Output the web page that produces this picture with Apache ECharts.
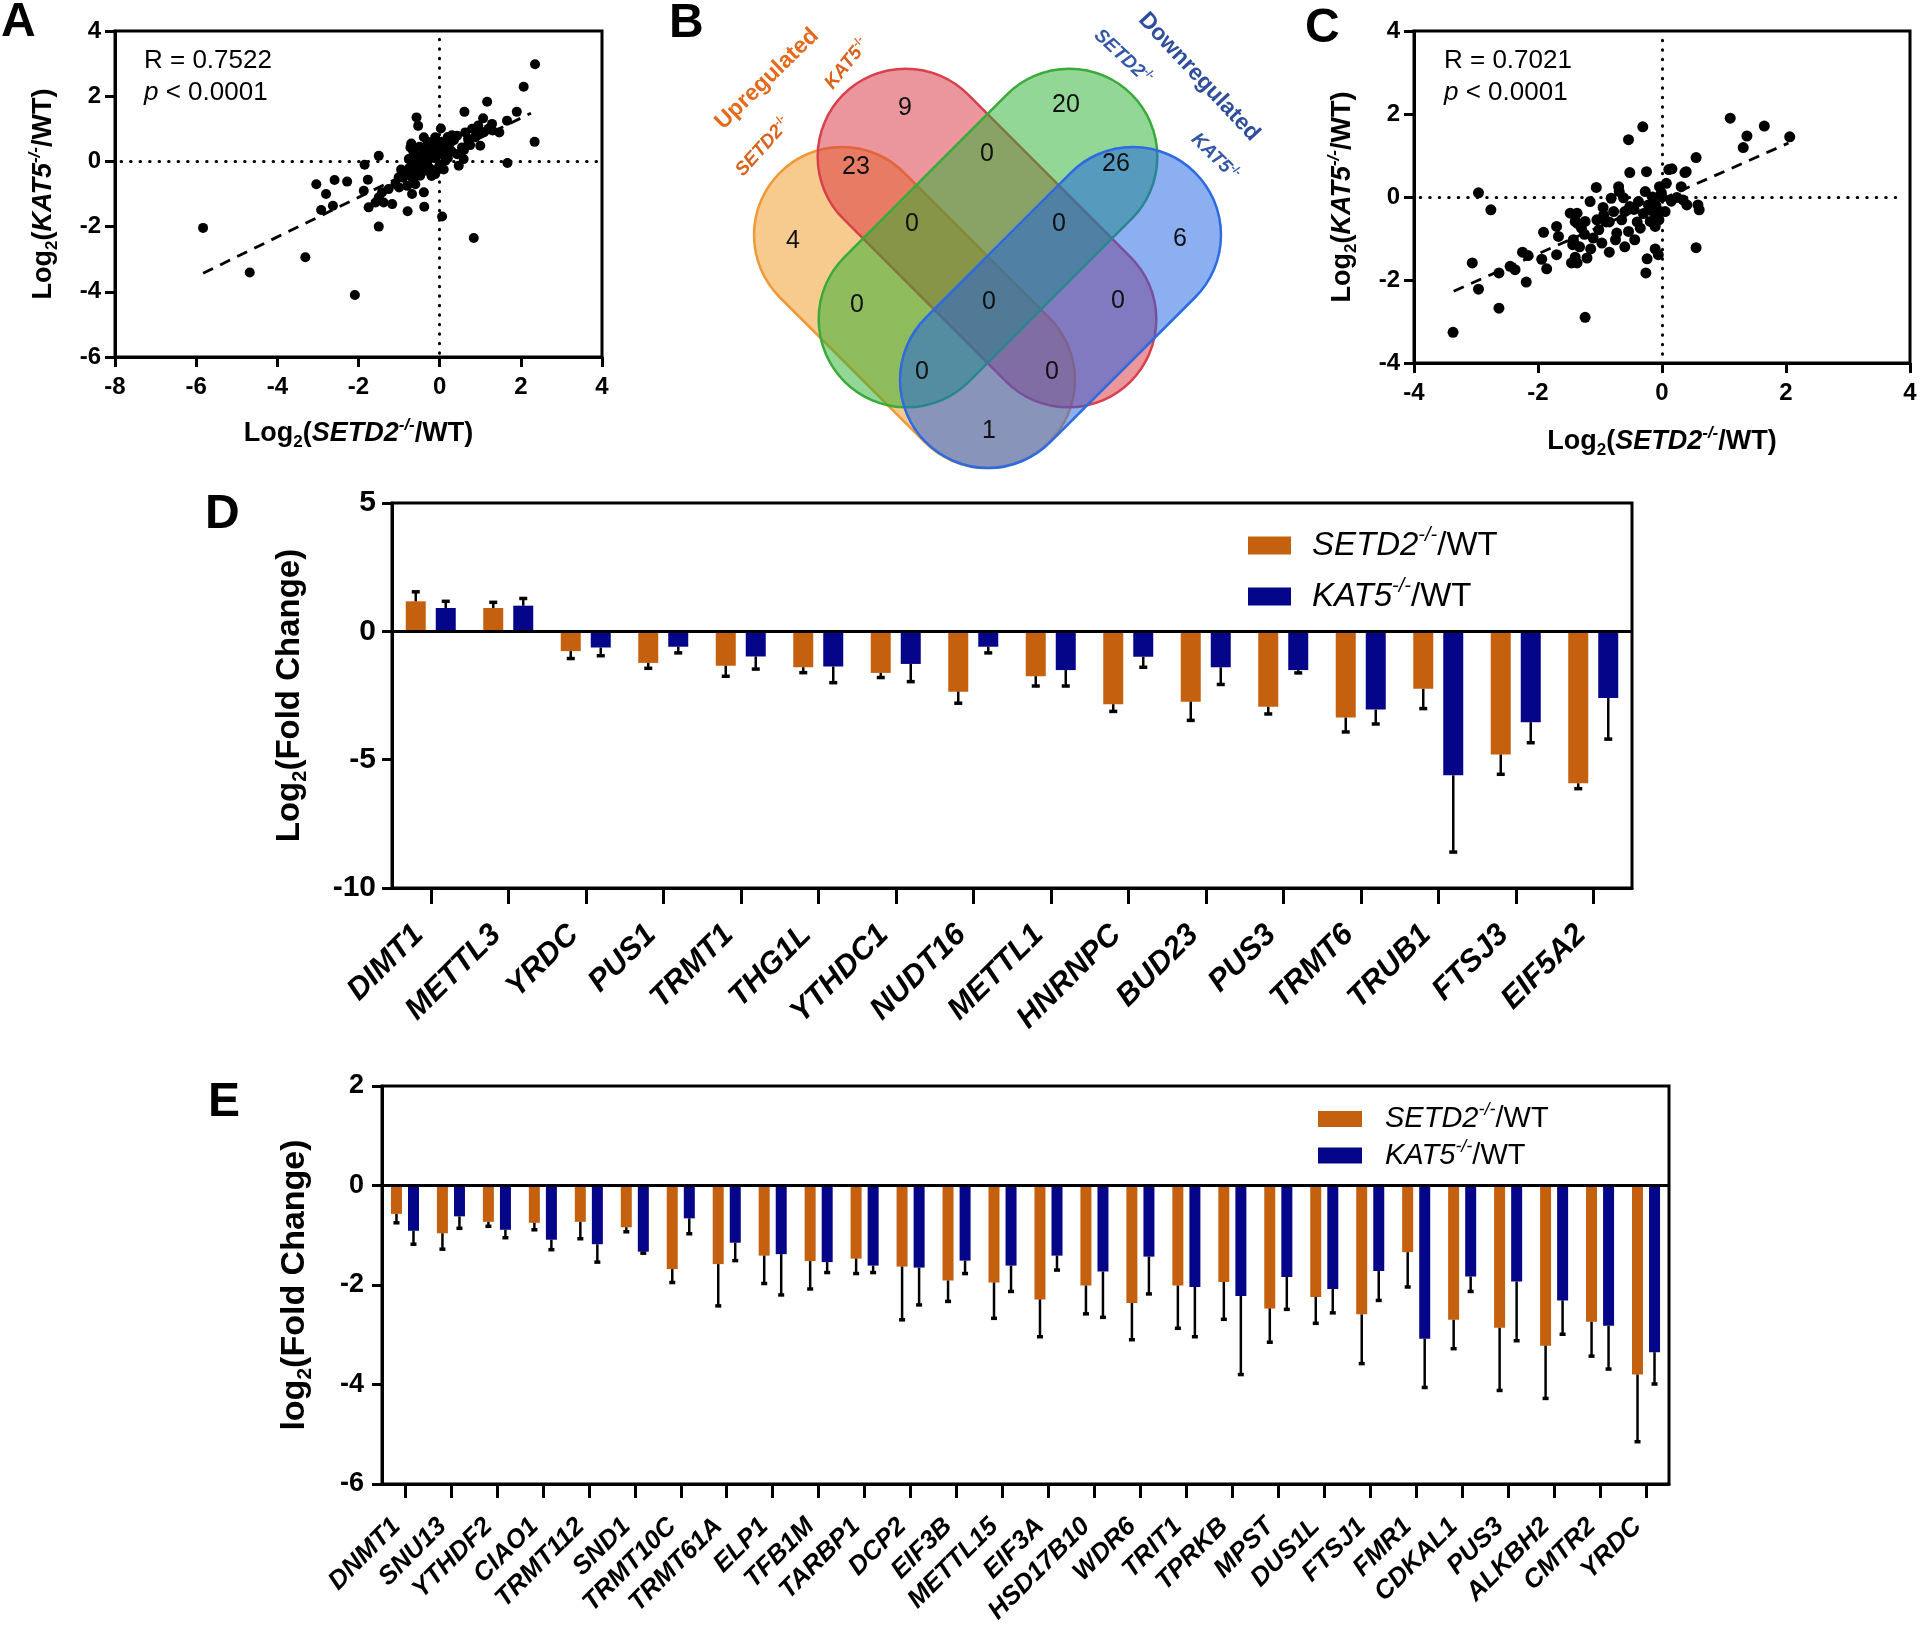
<!DOCTYPE html>
<html><head><meta charset="utf-8">
<script src="https://cdn.jsdelivr.net/npm/echarts@6/dist/echarts.min.js"></script>
<style>html,body{margin:0;padding:0;background:#fff}#c{width:1920px;height:1629px}</style>
</head><body><div id="c"></div>
<script>
// ---------------- DATA ----------------
// Panel A: log2(SETD2-/-/WT) vs log2(KAT5-/-/WT)
const A_POINTS = [
[2.35,2.98],[2.07,2.29],[1.17,1.83],[0.61,1.52],[1.90,1.52],[2.34,0.60],[1.67,-0.05],
[-0.57,1.35],[-0.53,1.09],[0.03,1.01],[1.07,1.32],[1.29,1.15],[1.47,0.89],[1.66,1.25],[0.96,0.94],
[0.88,0.74],[1.0,0.48],[0.63,0.89],[0.43,0.79],[0.71,0.63],[0.55,0.43],[0.43,0.22],[0.59,0.07],
[0.47,-0.13],[0.26,0.33],[0.14,0.02],[-0.11,0.74],[-0.15,0.58],[-0.39,0.74],[-0.27,0.43],[-0.43,0.22],
[-0.31,-0.03],[-0.56,0.12],[-0.76,0.07],[-0.72,0.43],[-0.07,0.22],[-0.02,-0.18],[-0.11,-0.39],
[-0.31,-0.29],[-0.48,-0.44],[-0.68,-0.49],[-0.80,-0.75],[-0.68,-1.0],[-0.39,-0.95],[-0.38,-1.39],
[-0.79,-1.53],[0.06,-1.69],[-1.01,-0.49],[-1.09,-0.70],[-1.26,-0.85],[-1.42,-0.95],[-1.50,-1.10],
[-1.58,-1.26],[-1.38,-1.26],[-1.17,-1.31],[-1.75,-1.41],[-1.50,-2.0],[-1.50,0.17],[-1.85,-0.10],
[-1.77,-0.56],[-1.87,-0.90],[-2.28,-0.62],[-2.59,-0.57],[-3.04,-0.70],[-2.80,-1.0],[-2.63,-1.36],
[-2.92,-1.49],[0.84,-2.35],[-3.31,-2.94],[-5.83,-2.04],[-4.68,-3.41],[-2.09,-4.10],
[-0.9,-0.5],[-0.85,-0.35],[-0.75,-0.2],[-0.65,-0.45],[-0.6,-0.1],[-0.55,0.0],[-0.5,-0.3],[-0.45,0.1],
[-0.4,-0.15],[-0.35,0.3],[-0.3,0.05],[-0.25,-0.2],[-0.2,0.2],[-0.15,0.4],[-0.1,0.1],[-0.05,0.5],
[0.0,0.3],[0.05,0.6],[0.1,0.2],[0.15,0.45],[0.2,0.1],[0.25,0.55],[0.3,0.3],[0.35,0.65],[-0.7,0.55],
[-0.5,0.45],[-0.3,0.6],[-0.2,-0.45],[0.0,-0.1],[0.1,-0.25],[-0.6,-0.7],[-0.95,-0.25],[-1.0,-0.8],
[-0.65,0.3],[0.2,0.75],[0.3,0.8],[0.7,0.7],[0.8,1.0],[0.9,0.8],[1.1,0.9],[1.2,1.0],[1.3,0.95],
[0.95,1.1],[0.6,0.35],[0.75,0.5]
];
const A_FIT = [[-5.83,-3.43],[2.25,1.48]];
const A_STATS = ['R = 0.7522', ' < 0.0001'];

// Panel C
const C_POINTS = [
[-2.96,0.10],[-2.76,-0.31],[-3.06,-1.59],[-2.96,-2.22],[-2.63,-2.68],[-3.37,-3.26],[-2.63,-1.83],
[-2.45,-1.67],[-2.37,-1.75],[-2.19,-2.05],[-2.25,-1.33],[-2.16,-1.41],[-1.91,-0.85],[-1.94,-1.5],
[-1.86,-1.73],[-1.70,-0.71],[-1.67,-0.95],[-1.48,-0.39],[-1.40,-0.59],[-1.44,-1.15],[-1.46,-1.59],
[-1.70,-1.39],[-0.31,1.69],[-0.54,1.38],[0.55,0.95],[-0.52,0.59],[-0.25,0.61],[0.16,0.68],[0.39,0.61],
[-1.06,0.23],[-0.70,0.25],[-0.69,0.13],[-0.82,-0.03],[-0.27,0.13],[-0.04,0.25],[0.07,0.33],[-0.01,0.10],
[0.31,0.25],[0.34,-0.07],[0.58,-0.19],[0.60,-0.31],[0.24,-0.01],[0.40,-0.19],[0.55,-1.22],[-1.16,-0.11],
[-1.37,-0.39],[-1.24,-0.59],[-1.43,-1.03],[-1.40,-1.45],[-1.21,-1.47],[-0.94,-0.44],[-1.02,-0.79],
[-1.11,-0.99],[-0.97,-1.11],[-0.85,-1.33],[-0.73,-0.87],[-0.75,-1.03],[-0.54,-0.83],[-0.44,-1.03],
[-0.40,-0.60],[-0.52,-0.23],[-0.60,-0.35],[-0.78,-0.35],[-0.38,-0.11],[-0.22,-0.19],[-0.14,-0.35],
[-0.09,-0.47],[-0.19,-0.59],[-0.03,-0.35],[0.05,-0.35],[-0.11,-0.71],[-0.24,-1.49],[-0.11,-1.25],
[-0.06,-1.39],[-0.26,-1.83],[-1.24,-2.90],[1.10,1.90],[1.65,1.71],[1.37,1.47],[1.31,1.19],[2.06,1.45],
[0.11,0.66],[0.37,0.59],[-1.37,-0.63],[-1.43,-1.10],[-1.37,-1.59],[-1.30,-0.75],[-1.33,-1.2],
[-1.25,-0.9],[-1.15,-1.25],[-0.9,-0.6],[-0.65,-0.55],[-0.45,-0.3],[-0.3,-0.4],[-0.2,-0.3],[-0.1,-0.2],
[-0.05,-0.55],[0.0,0.0],[-0.15,0.0],[0.15,-0.1],[-0.35,-0.75],[-0.6,-1.2],[-0.95,-0.25],[-0.62,-0.02],
[-0.85,-0.6],[-1.05,-0.55]
];
const C_FIT = [[-3.36,-2.27],[2.04,1.30]];
const C_STATS = ['R = 0.7021', ' < 0.0001'];

// Panel B: Venn counts
const VENN_SETS = ['SETD2-/- up', 'KAT5-/- up', 'SETD2-/- down', 'KAT5-/- down'];
const VENN_COUNTS = [9, 20, 23, 0, 26, 4, 0, 0, 6, 0, 0, 0, 0, 0, 1];

// Panel D
const D_GENES = ['DIMT1','METTL3','YRDC','PUS1','TRMT1','THG1L','YTHDC1','NUDT16','METTL1','HNRNPC','BUD23','PUS3','TRMT6','TRUB1','FTSJ3','EIF5A2'];
const D_SETD2 = [1.17,0.91,-0.77,-1.23,-1.34,-1.40,-1.62,-2.35,-1.75,-2.84,-2.74,-2.94,-3.36,-2.24,-4.80,-5.92];
const D_SETD2_ERR = [0.37,0.22,0.29,0.21,0.41,0.21,0.18,0.45,0.38,0.28,0.73,0.28,0.56,0.77,0.77,0.21];
const D_KAT5 = [0.91,1.00,-0.63,-0.60,-0.98,-1.37,-1.27,-0.60,-1.51,-0.99,-1.40,-1.51,-3.05,-5.61,-3.54,-2.60];
const D_KAT5_ERR = [0.26,0.28,0.32,0.24,0.49,0.63,0.69,0.24,0.62,0.41,0.67,0.11,0.56,2.99,0.80,1.60];

// Panel E
const E_GENES = ['DNMT1','SNU13','YTHDF2','CIAO1','TRMT112','SND1','TRMT10C','TRMT61A','ELP1','TFB1M','TARBP1','DCP2','EIF3B','METTL15','EIF3A','HSD17B10','WDR6','TRIT1','TPRKB','MPST','DUS1L','FTSJ1','FMR1','CDKAL1','PUS3','ALKBH2','CMTR2','YRDC'];
const E_SETD2 = [-0.57,-0.96,-0.73,-0.75,-0.73,-0.84,-1.68,-1.58,-1.41,-1.52,-1.47,-1.63,-1.91,-1.95,-2.29,-2.01,-2.36,-2.01,-1.94,-2.47,-2.24,-2.59,-1.34,-2.70,-2.86,-3.22,-2.74,-3.80];
const E_SETD2_ERR = [0.18,0.32,0.09,0.14,0.34,0.09,0.27,0.84,0.56,0.56,0.30,1.07,0.42,0.72,0.75,0.57,0.74,0.86,0.75,0.68,0.53,0.99,0.70,0.58,1.26,1.06,0.69,1.35];
const E_KAT5 = [-0.91,-0.62,-0.89,-1.09,-1.18,-1.33,-0.66,-1.15,-1.38,-1.54,-1.61,-1.65,-1.51,-1.61,-1.41,-1.73,-1.43,-2.04,-2.22,-1.84,-2.08,-1.72,-3.08,-1.83,-1.93,-2.31,-2.82,-3.35];
const E_KAT5_ERR = [0.27,0.24,0.16,0.20,0.36,0.03,0.31,0.36,0.82,0.21,0.14,0.75,0.26,0.52,0.29,0.92,0.75,1.00,1.58,0.65,0.48,0.59,0.98,0.30,1.19,0.68,0.87,0.64];

const SERIES_NAMES = ['SETD2-/-/WT', 'KAT5-/-/WT'];

// ---------------- LAYOUT / STYLE ----------------
const FONT = "'Liberation Sans', Arial, Helvetica, sans-serif";
const ORANGE = '#C5600E';
const NAVY = '#05058A';

// Venn geometry (pixel space): [cx, cy, length, thickness, angleDeg (ccw), fill, stroke]
const VENN_SHAPES = [
  [914.5, 307.5, 381, 176, -45, 'rgba(240,150,30,0.5)', '#EE9A3A'],
  [987, 238, 406, 176, -45, 'rgba(215,45,60,0.5)', '#D8404C'],
  [988, 238, 406, 176, 45, 'rgba(40,175,45,0.5)', '#3AAA3A'],
  [1060.5, 307.5, 381, 176, 45, 'rgba(25,95,230,0.5)', '#2E6BE0'],
];
const VENN_COUNT_POS = [[905,108],[1066,105],[856,167],[987,154],[1116,164],[793,241],[912,224],[1059,224],[1180,239],[857,305],[989,302],[1118,301],[922,372],[1052,372],[989,431]];

function rich(size, weight, color) {
  const lh = Math.round(size * 1.25);
  const ss = Math.round(size * 0.62);
  return {
    n: {fontSize: size, fontWeight: weight, fontFamily: FONT, color: color, lineHeight: lh},
    i: {fontSize: size, fontWeight: weight, fontStyle: 'italic', fontFamily: FONT, color: color, lineHeight: lh},
    s: {fontSize: ss, fontWeight: weight, fontFamily: FONT, color: color, lineHeight: ss, verticalAlign: 'bottom'},
    p: {fontSize: ss, fontWeight: weight, fontStyle: 'italic', fontFamily: FONT, color: color, lineHeight: ss, verticalAlign: 'top'}
  };
}
function geneRich(name) { // 'SETD2-/-/WT' -> rich
  const parts = name.split('-/-');
  return '{i|' + parts[0] + '}{p|-/-}{n|' + parts[1] + '}';
}
function smallLabelRich(color) {
  return {
    i: {fontSize: 19, fontWeight: 'bold', fontStyle: 'italic', fontFamily: FONT, fill: color, lineHeight: 22},
    p: {fontSize: 11, fontWeight: 'bold', fontFamily: FONT, fill: color, lineHeight: 11, verticalAlign: 'top'}
  };
}
function statRich() {
  return {
    i: {fontSize: 26, fontStyle: 'italic', fontFamily: FONT, fill: '#000'},
    n: {fontSize: 26, fontFamily: FONT, fill: '#000'}
  };
}

const chart = echarts.init(document.getElementById('c'), null, {renderer: 'canvas'});

function scatterAxis(min, max, nameStr, nameGap, isX) {
  return {
    type: 'value', min: min, max: max, interval: 2,
    name: nameStr, nameLocation: 'middle', nameGap: nameGap,
    nameTextStyle: {rich: rich(27, 'bold', '#000')},
    axisLine: {show: true, onZero: false, lineStyle: {color: '#000', width: 3}},
    axisTick: {show: true, inside: false, length: 10, lineStyle: {color: '#000', width: 3}},
    axisLabel: {color: '#000', fontSize: 24, fontWeight: 'bold', fontFamily: FONT, margin: isX ? 18 : 14},
    splitLine: {show: false}
  };
}

function zeroLines(xmin, xmax, ymin, ymax) {
  return {
    silent: true, symbol: 'none', label: {show: false}, animation: false,
    lineStyle: {color: '#000', width: 3, type: [0.5, 9], cap: 'round'},
    emphasis: {disabled: true},
    data: [
      [{coord: [0, ymax]}, {coord: [0, ymin]}],
      [{coord: [xmin, 0]}, {coord: [xmax, 0]}]
    ]
  };
}

function errorSeries(name, xi, yi, values, errs, offset, cap, z) {
  return {
    type: 'custom', name: name + ' err', xAxisIndex: xi, yAxisIndex: yi, z: z, silent: true,
    data: values.map((v, i) => [i, v, errs[i]]),
    renderItem: function (params, api) {
      const i = api.value(0), v = api.value(1), e = api.value(2);
      const sg = v >= 0 ? 1 : -1;
      const p0 = api.coord([i, v]);
      const p1 = api.coord([i, v + sg * e]);
      const x = p0[0] + offset;
      return {
        type: 'group', children: [
          {type: 'line', shape: {x1: x, y1: p0[1], x2: x, y2: p1[1]}, style: {stroke: '#000', lineWidth: 2.5}},
          {type: 'line', shape: {x1: x - cap, y1: p1[1], x2: x + cap, y2: p1[1]}, style: {stroke: '#000', lineWidth: 3.5}}
        ]
      };
    }
  };
}

const barRichD = rich(33, 'normal', '#000');
const barRichE = rich(29, 'normal', '#000');

const option = {
  animation: false,
  textStyle: {fontFamily: FONT},
  grid: [
    {left: 115, top: 31, width: 487, height: 326, show: true, borderColor: '#000', borderWidth: 3, outerBoundsMode: 'none'},
    {left: 1414, top: 31, width: 496, height: 332, show: true, borderColor: '#000', borderWidth: 3, outerBoundsMode: 'none'},
    {left: 392, top: 503, width: 1240, height: 385, show: true, borderColor: '#000', borderWidth: 3, outerBoundsMode: 'none'},
    {left: 382, top: 1086, width: 1287, height: 398, show: true, borderColor: '#000', borderWidth: 3, outerBoundsMode: 'none'},
    {left: 0, top: 0, width: 1920, height: 1629, show: false, outerBoundsMode: 'none'}
  ],
  xAxis: [
    Object.assign(scatterAxis(-8, 4, '{n|Log}{s|2}{n|(}{i|SETD2}{p|-/-}{n|/WT)}', 60, true), {gridIndex: 0}),
    Object.assign(scatterAxis(-4, 4, '{n|Log}{s|2}{n|(}{i|SETD2}{p|-/-}{n|/WT)}', 62, true), {gridIndex: 1}),
    {
      type: 'category', gridIndex: 2, data: D_GENES, position: 'bottom',
      axisLine: {show: true, onZero: false, lineStyle: {color: '#000', width: 3}},
      axisTick: {show: true, alignWithLabel: true, length: 16, lineStyle: {color: '#000', width: 3}},
      axisLabel: {rotate: 45, interval: 0, color: '#000', fontSize: 31, fontWeight: 'bold', fontStyle: 'italic', fontFamily: FONT, margin: 30, padding: [0, 17, 0, 0]},
      splitLine: {show: false}
    },
    {
      type: 'category', gridIndex: 3, data: E_GENES, position: 'bottom',
      axisLine: {show: true, onZero: false, lineStyle: {color: '#000', width: 3}},
      axisTick: {show: true, alignWithLabel: true, length: 14, lineStyle: {color: '#000', width: 3}},
      axisLabel: {rotate: 45, interval: 0, color: '#000', fontSize: 26, fontWeight: 'bold', fontStyle: 'italic', fontFamily: FONT, margin: 30, padding: [0, 12, 0, 0]},
      splitLine: {show: false}
    },
    {type: 'value', gridIndex: 4, min: 0, max: 1920, show: false}
  ],
  yAxis: [
    Object.assign(scatterAxis(-6, 4, '{n|Log}{s|2}{n|(}{i|KAT5}{p|-/-}{n|/WT)}', 54, false), {gridIndex: 0}),
    Object.assign(scatterAxis(-4, 4, '{n|Log}{s|2}{n|(}{i|KAT5}{p|-/-}{n|/WT)}', 54, false), {gridIndex: 1}),
    {
      type: 'value', gridIndex: 2, min: -10, max: 5, interval: 5,
      name: '{n|Log}{s|2}{n|(Fold Change)}', nameLocation: 'middle', nameGap: 82,
      nameTextStyle: {rich: rich(33, 'bold', '#000')},
      axisLine: {show: true, lineStyle: {color: '#000', width: 3}},
      axisTick: {show: true, length: 10, lineStyle: {color: '#000', width: 3}},
      axisLabel: {color: '#000', fontSize: 30, fontWeight: 'bold', fontFamily: FONT, margin: 16},
      splitLine: {show: false}
    },
    {
      type: 'value', gridIndex: 3, min: -6, max: 2, interval: 2,
      name: '{n|log}{s|2}{n|(Fold Change)}', nameLocation: 'middle', nameGap: 66,
      nameTextStyle: {rich: rich(34, 'bold', '#000')},
      axisLine: {show: true, lineStyle: {color: '#000', width: 3}},
      axisTick: {show: true, length: 10, lineStyle: {color: '#000', width: 3}},
      axisLabel: {color: '#000', fontSize: 27, fontWeight: 'bold', fontFamily: FONT, margin: 18},
      splitLine: {show: false}
    },
    {type: 'value', gridIndex: 4, min: 0, max: 1629, inverse: true, show: false}
  ],
  legend: [
    {
      data: SERIES_NAMES, left: 1243, top: 520, orient: 'vertical', itemWidth: 43, itemHeight: 18, itemGap: 14,
      icon: 'rect', selectedMode: false,
      formatter: geneRich,
      textStyle: {rich: barRichD, padding: [0, 0, 0, 16]}
    },
    {
      data: SERIES_NAMES, left: 1313, top: 1096, orient: 'vertical', itemWidth: 44, itemHeight: 16, itemGap: 4,
      icon: 'rect', selectedMode: false,
      formatter: geneRich,
      textStyle: {rich: barRichE, padding: [0, 0, 0, 18]}
    }
  ],
  series: [
    // Venn
    {
      type: 'custom', xAxisIndex: 4, yAxisIndex: 4, silent: true, z: 1,
      data: VENN_SETS.map((s, i) => [i, 0]),
      renderItem: function (params, api) {
        const g = VENN_SHAPES[params.dataIndex];
        const c = api.coord([g[0], g[1]]);
        return {
          type: 'rect', x: c[0], y: c[1], rotation: g[4] * Math.PI / 180,
          shape: {x: -g[2] / 2, y: -g[3] / 2, width: g[2], height: g[3], r: g[3] / 2},
          style: {fill: g[5], stroke: g[6], lineWidth: 2.5}
        };
      }
    },
    {
      type: 'custom', xAxisIndex: 4, yAxisIndex: 4, silent: true, z: 2,
      data: VENN_COUNTS.map((v, i) => [i, v]),
      renderItem: function (params, api) {
        const pos = VENN_COUNT_POS[params.dataIndex];
        const c = api.coord([pos[0], pos[1]]);
        return {
          type: 'text', x: c[0], y: c[1],
          style: {text: String(api.value(1)), fontSize: 25, fontFamily: FONT, fill: '#111', align: 'center', verticalAlign: 'middle'}
        };
      }
    },
    // Panel A
    {
      type: 'scatter', xAxisIndex: 0, yAxisIndex: 0, data: A_POINTS, symbolSize: 10,
      itemStyle: {color: '#000', opacity: 1}, silent: true, z: 3,
      markLine: zeroLines(-7.85, 3.9, -6, 3.75)
    },
    {
      type: 'line', xAxisIndex: 0, yAxisIndex: 0, data: A_FIT, showSymbol: false, silent: true, z: 4,
      lineStyle: {color: '#000', width: 2.8, type: [11, 8]}
    },
    // Panel C
    {
      type: 'scatter', xAxisIndex: 1, yAxisIndex: 1, data: C_POINTS, symbolSize: 11,
      itemStyle: {color: '#000', opacity: 1}, silent: true, z: 3,
      markLine: zeroLines(-3.9, 3.9, -4, 3.78)
    },
    {
      type: 'line', xAxisIndex: 1, yAxisIndex: 1, data: C_FIT, showSymbol: false, silent: true, z: 4,
      lineStyle: {color: '#000', width: 2.8, type: [11, 8]}
    },
    // Panel D
    {
      type: 'bar', name: SERIES_NAMES[0], xAxisIndex: 2, yAxisIndex: 2, data: D_SETD2,
      barWidth: 20, barGap: '50%', itemStyle: {color: ORANGE}, silent: true, z: 2,
      markLine: {silent: true, symbol: 'none', label: {show: false}, lineStyle: {color: '#000', width: 3, type: 'solid'}, data: [{yAxis: 0}]}
    },
    {
      type: 'bar', name: SERIES_NAMES[1], xAxisIndex: 2, yAxisIndex: 2, data: D_KAT5,
      barWidth: 20, barGap: '50%', itemStyle: {color: NAVY}, silent: true, z: 2
    },
    errorSeries('D1', 2, 2, D_SETD2, D_SETD2_ERR, -15, 4, 3),
    errorSeries('D2', 2, 2, D_KAT5, D_KAT5_ERR, 15, 4, 3),
    // Panel E
    {
      type: 'bar', name: SERIES_NAMES[0], xAxisIndex: 3, yAxisIndex: 3, data: E_SETD2,
      barWidth: 11, barGap: '55%', itemStyle: {color: ORANGE}, silent: true, z: 2,
      markLine: {silent: true, symbol: 'none', label: {show: false}, lineStyle: {color: '#000', width: 3, type: 'solid'}, data: [{yAxis: 0}]}
    },
    {
      type: 'bar', name: SERIES_NAMES[1], xAxisIndex: 3, yAxisIndex: 3, data: E_KAT5,
      barWidth: 11, barGap: '55%', itemStyle: {color: NAVY}, silent: true, z: 2
    },
    errorSeries('E1', 3, 3, E_SETD2, E_SETD2_ERR, -8.5, 3, 3),
    errorSeries('E2', 3, 3, E_KAT5, E_KAT5_ERR, 8.5, 3, 3)
  ],
  graphic: [
    // panel letters
    {type: 'text', x: 1, y: 23, style: {text: 'A', fontSize: 48, fontWeight: 'bold', fontFamily: FONT, fill: '#000', verticalAlign: 'middle'}},
    {type: 'text', x: 669, y: 24, style: {text: 'B', fontSize: 48, fontWeight: 'bold', fontFamily: FONT, fill: '#000', verticalAlign: 'middle'}},
    {type: 'text', x: 1305, y: 29, style: {text: 'C', fontSize: 48, fontWeight: 'bold', fontFamily: FONT, fill: '#000', verticalAlign: 'middle'}},
    {type: 'text', x: 205, y: 515, style: {text: 'D', fontSize: 48, fontWeight: 'bold', fontFamily: FONT, fill: '#000', verticalAlign: 'middle'}},
    {type: 'text', x: 208, y: 1103, style: {text: 'E', fontSize: 48, fontWeight: 'bold', fontFamily: FONT, fill: '#000', verticalAlign: 'middle'}},
    // stats text
    {type: 'text', x: 144, y: 61, style: {text: A_STATS[0], fontSize: 26, fontFamily: FONT, fill: '#000', verticalAlign: 'middle'}},
    {type: 'text', x: 144, y: 93, style: {text: '{i|p}{n|' + A_STATS[1] + '}', verticalAlign: 'middle', rich: statRich()}},
    {type: 'text', x: 1444, y: 61, style: {text: C_STATS[0], fontSize: 26, fontFamily: FONT, fill: '#000', verticalAlign: 'middle'}},
    {type: 'text', x: 1444, y: 93, style: {text: '{i|p}{n|' + C_STATS[1] + '}', verticalAlign: 'middle', rich: statRich()}},
    // venn labels
    {type: 'text', x: 767, y: 79, rotation: 44 * Math.PI / 180, style: {text: 'Upregulated', fontSize: 23, fontWeight: 'bold', fontFamily: FONT, fill: '#E46A1C', align: 'center', verticalAlign: 'middle'}},
    {type: 'text', x: 763, y: 147, rotation: 48 * Math.PI / 180, style: {text: '{i|SETD2}{p|-/-}', align: 'center', verticalAlign: 'middle', rich: smallLabelRich('#D9621C')}},
    {type: 'text', x: 847, y: 64, rotation: 51 * Math.PI / 180, style: {text: '{i|KAT5}{p|-/-}', align: 'center', verticalAlign: 'middle', rich: smallLabelRich('#D9621C')}},
    {type: 'text', x: 1199, y: 77, rotation: -47 * Math.PI / 180, style: {text: 'Downregulated', fontSize: 23, fontWeight: 'bold', fontFamily: FONT, fill: '#2F4F9C', align: 'center', verticalAlign: 'middle'}},
    {type: 'text', x: 1123, y: 57, rotation: -43 * Math.PI / 180, style: {text: '{i|SETD2}{p|-/-}', align: 'center', verticalAlign: 'middle', rich: smallLabelRich('#3457A8')}},
    {type: 'text', x: 1215, y: 157, rotation: -45 * Math.PI / 180, style: {text: '{i|KAT5}{p|-/-}', align: 'center', verticalAlign: 'middle', rich: smallLabelRich('#3457A8')}}
  ]
};
chart.setOption(option);
</script></body></html>
